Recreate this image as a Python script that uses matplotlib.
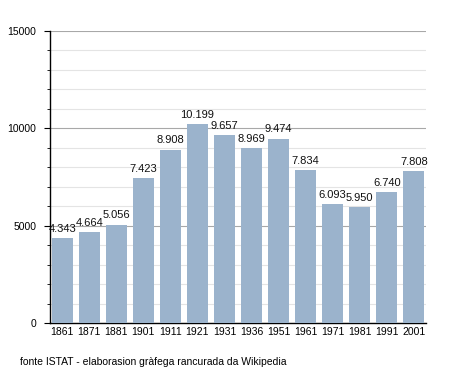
import numpy as np
import matplotlib.pyplot as plt
from matplotlib.ticker import MultipleLocator

anni = ['1861', '1871', '1881', '1901', '1911', '1921', '1931',
        '1936', '1951', '1961', '1971', '1981', '1991', '2001']
abitanti = [4343, 4664, 5056, 7423, 8908, 10199, 9657,
            8969, 9474, 7834, 6093, 5950, 6740, 7808]

plt.rcParams['font.family'] = ['Liberation Sans', 'DejaVu Sans']

fig = plt.figure(figsize=(4.55, 3.73), dpi=100)
ax = fig.add_axes([50/455, 1-323/373, 376/455, 292/373])

x = np.arange(len(anni))
ax.bar(x, abitanti, width=0.78, color='#9bb3cc', zorder=3)
for xi, v in zip(x, abitanti):
    ax.text(xi, v + 220, f'{v:,}'.replace(',', '.'), ha='center', va='bottom',
            fontsize=8, color='#111111', zorder=4)

ax.set_ylim(0, 15000)
ax.set_xlim(-0.45, len(anni) - 0.55)
ax.yaxis.set_major_locator(MultipleLocator(5000))
ax.yaxis.set_minor_locator(MultipleLocator(1000))
ax.grid(axis='y', which='major', color='#a8a8a8', linewidth=0.8, zorder=1)
ax.grid(axis='y', which='minor', color='#e4e4e4', linewidth=0.8, zorder=1)
ax.set_xticks(x)
ax.set_xticklabels(anni)
ax.tick_params(axis='x', length=0, labelsize=7.5, pad=3)
ax.tick_params(axis='y', which='major', length=4, labelsize=7.5, pad=6)
ax.tick_params(axis='y', which='minor', length=2.5)
for s in ['top', 'right']:
    ax.spines[s].set_visible(False)
ax.spines['left'].set_linewidth(1)
ax.spines['bottom'].set_linewidth(1)

fig.text(20/455, 1-362/373, 'fonte ISTAT - elaborasion gràfega rancurada da Wikipedia',
         fontsize=7.5, va='center', ha='left')

fig.savefig('out.png', dpi=100)
